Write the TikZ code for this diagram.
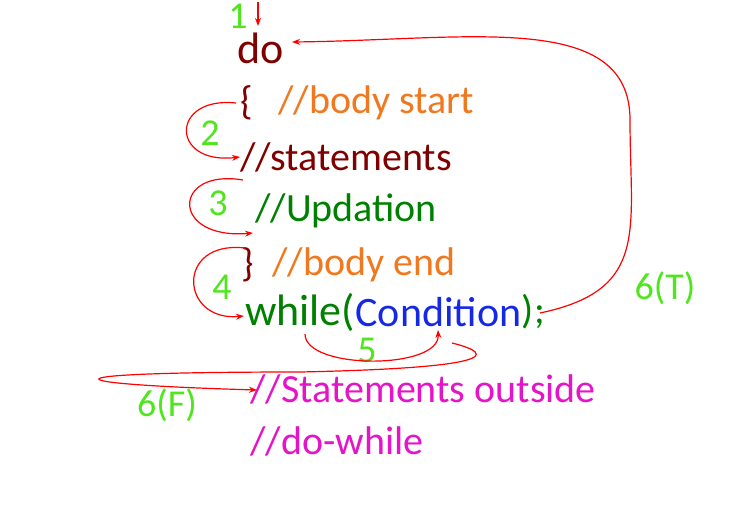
\documentclass[tikz,border=0pt]{standalone}
\usepackage{fontspec}
\setmainfont{Carlito}
\usetikzlibrary{arrows.meta}
\definecolor{dred}{RGB}{128,0,0}
\definecolor{dgreen}{RGB}{0,128,0}
\definecolor{lgreen}{RGB}{80,230,30}
\definecolor{orng}{RGB}{240,120,30}
\definecolor{mag}{RGB}{230,20,200}
\definecolor{blu}{RGB}{20,40,230}
\begin{document}
\begin{tikzpicture}[x=1pt,y=1pt,
  code/.style={anchor=west,inner sep=0pt,font=\fontsize{40}{40}\selectfont},
  num/.style={text=lgreen,inner sep=0pt,font=\fontsize{38}{38}\selectfont},
  flow/.style={red,line width=1.2pt,-{Stealth[length=8pt,width=6pt]}}]
\useasboundingbox (0,0) rectangle (743,-516);
\node[num] (n1) at (238,-16) {1};
\node[code,text=dred,font=\fontsize{44}{44}\selectfont] (do) at (237,-48) {do};
\node[code,text=dred] (ob) at (240,-103) {\{};
\node[code,text=orng] (bs) at (278,-103) {//body start};
\node[num] (n2) at (210,-133) {2};
\node[code,text=dred] (st) at (240,-157) {//statements};
\node[num] (n3) at (218,-203) {3};
\node[code,text=dgreen] (up) at (255,-211) {//Updation};
\node[code,text=dred] (cb) at (241,-265) {\}};
\node[code,text=orng] (be) at (272,-265) {//body end};
\node[num] (n4) at (222,-287) {4};
\node[code,text=dgreen,font=\fontsize{44}{44}\selectfont] (wh) at (245,-312) {while(};
\node[code,text=blu,font=\fontsize{42}{42}\selectfont] (cond) at (wh.east) {Condition};
\node[code,text=dgreen] (sc) at (cond.east) {);};
\node[num] (n5) at (367,-350) {5};
\node[num] (t6) at (665,-288) {6(T)};
\node[num] (f6) at (167,-405) {6(F)};
\node[code,text=mag] (so) at (250,-389) {//Statements outside};
\node[code,text=mag] (dw) at (250,-441) {//do-while};
\coordinate (a1) at (258,-2);
\coordinate (a1e) at (258,-26);
\draw[flow] (a1) -- (a1e);
\coordinate (l2s) at (236,-103);
\coordinate (l2e) at (240,-157);
\draw[flow] (l2s) .. controls (170,-96) and (170,-165) .. (l2e);
\coordinate (l3s) at (243,-180);
\coordinate (l3e) at (253,-233);
\draw[flow] (l3s) .. controls (172,-168) and (170,-240) .. (l3e);
\coordinate (l4s) at (245,-248);
\coordinate (l4e) at (244,-316);
\draw[flow] (l4s) .. controls (175,-240) and (180,-322) .. (l4e);
\coordinate (l5s) at (305,-334);
\coordinate (l5e) at (438,-330);
\draw[flow] (l5s) .. controls (305,-370) and (440,-370) .. (l5e);
\coordinate (tS) at (540,-313);
\coordinate (tE) at (292,-42);
\draw[flow] (tS) .. controls (650,-290) and (630,-230) .. (630,-120) .. controls (630,-10) and (470,-40) .. (tE);
\coordinate (fS) at (452,-343);
\coordinate (fE) at (257,-390);
\draw[flow] (fS) .. controls (500,-355) and (490,-368) .. (300,-372) .. controls (30,-372) and (50,-384) .. (fE);
\end{tikzpicture}
\end{document}
